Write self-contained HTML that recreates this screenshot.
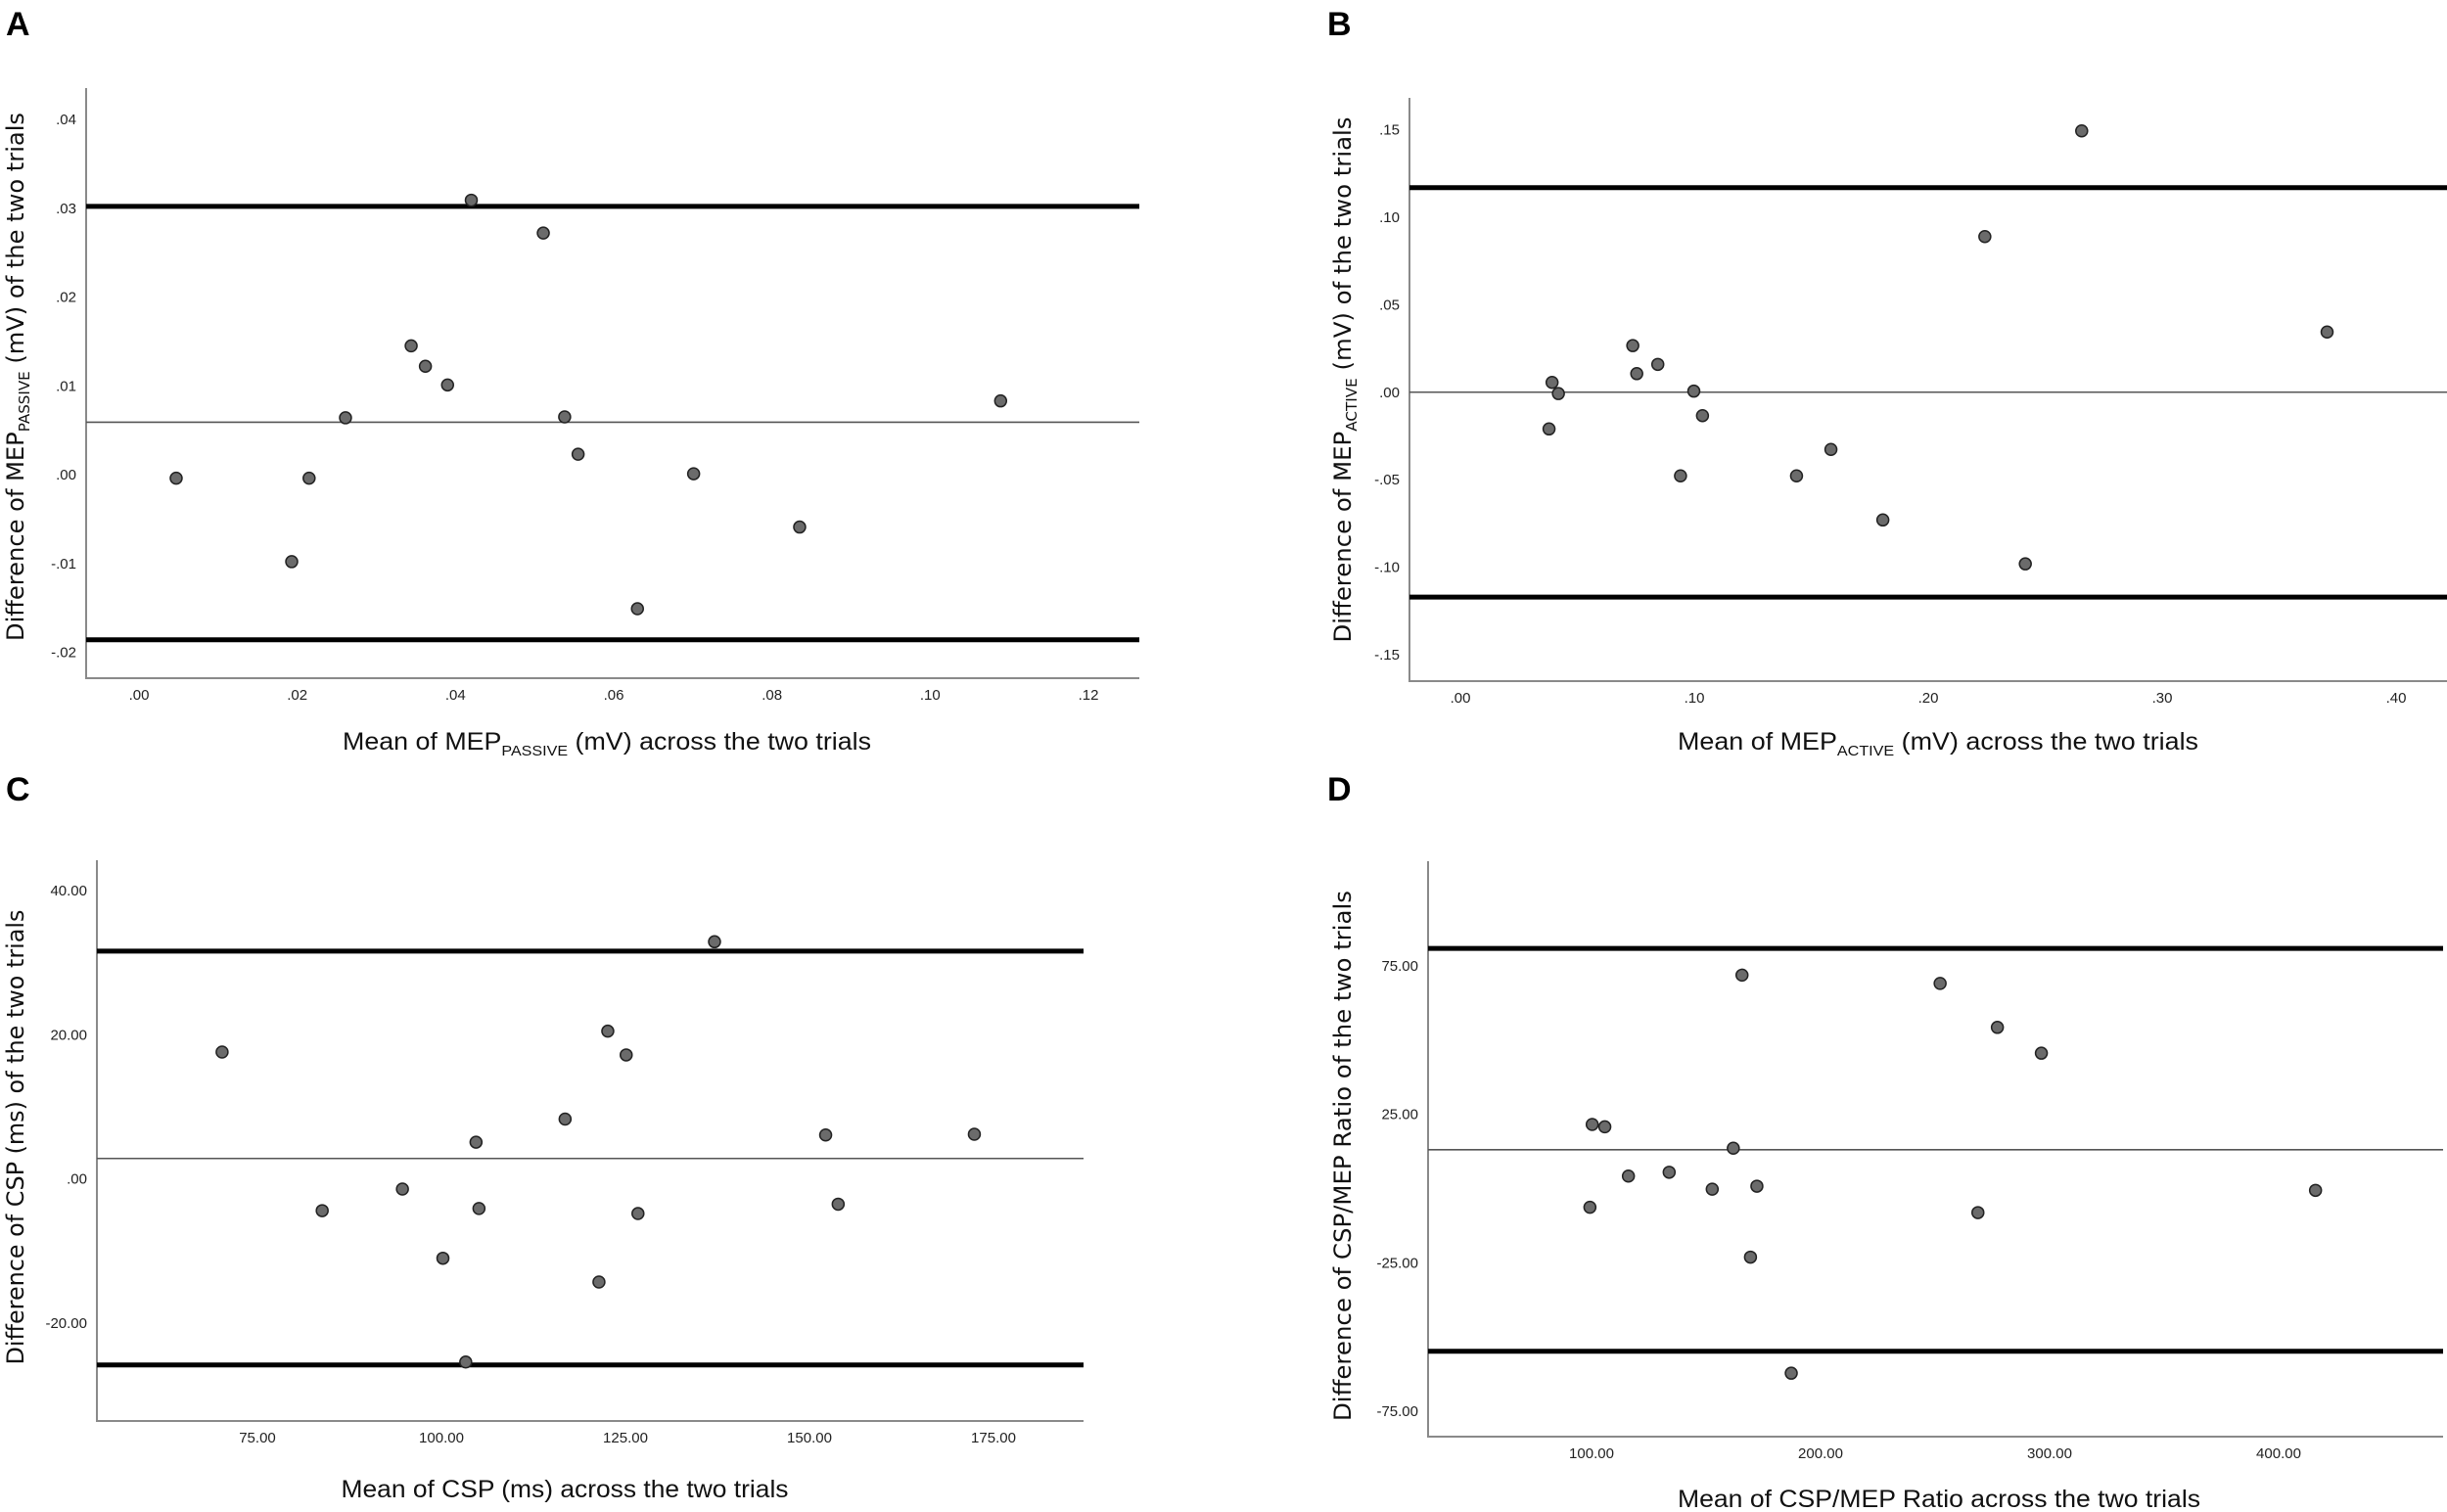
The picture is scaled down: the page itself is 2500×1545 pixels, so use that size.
<!DOCTYPE html>
<html><head><meta charset="utf-8"><style>
html,body{margin:0;padding:0;background:#fff;}
svg{display:block;}
.tick{font-family:"Liberation Sans",sans-serif;font-size:15px;fill:#222;}
.ytitle{font-family:"DejaVu Sans",sans-serif;font-size:24px;fill:#111;}
.xtitle{font-family:"Liberation Sans",sans-serif;font-size:25px;fill:#111;}
.panel{font-family:"Liberation Sans",sans-serif;font-size:34px;font-weight:bold;fill:#000;}
</style></head><body>
<svg id="fig" width="2500" height="1545" viewBox="0 0 2500 1545" xmlns="http://www.w3.org/2000/svg"></svg>
<script>
// Panel A data
const aX = [0.0047,0.0215,0.0193,0.0261,0.0344,0.0362,0.0390,0.0420,0.0511,0.0538,0.0555,0.0630,0.0701,0.0835,0.1089];
const aY = [-0.0004,-0.0004,-0.0098,0.0064,0.0145,0.0122,0.0101,0.0309,0.0272,0.0065,0.0023,-0.0151,0.0001,-0.0059,0.0083];
const aLines = [0.0302,0.0059,-0.0186];
const aXTicks = [0,0.02,0.04,0.06,0.08,0.10,0.12];
const aXLabels = [".00",".02",".04",".06",".08",".10",".12"];
const aYTicks = [-0.02,-0.01,0,0.01,0.02,0.03,0.04];
const aYLabels = ["-.02","-.01",".00",".01",".02",".03",".04"];
// Panel B data
const bX = [0.2656,0.2242,0.3705,0.0737,0.0754,0.0844,0.0392,0.0419,0.0379,0.0998,0.1035,0.0941,0.1437,0.1584,0.1806,0.2415];
const bY = [0.1493,0.0889,0.0344,0.0266,0.0106,0.0159,0.0056,-0.0008,-0.0210,0.0006,-0.0134,-0.0478,-0.0478,-0.0327,-0.0730,-0.0981];
const bLines = [0.1169,0,-0.1171];
const bXTicks = [0,0.1,0.2,0.3,0.4];
const bXLabels = [".00",".10",".20",".30",".40"];
const bYTicks = [-0.15,-0.10,-0.05,0,0.05,0.10,0.15];
const bYLabels = ["-.15","-.10","-.05",".00",".05",".10",".15"];
// Panel C data
const cX = [70.2,83.8,94.7,100.2,103.3,104.7,105.1,116.8,121.4,122.6,125.1,126.7,137.1,152.2,153.9,172.4];
const cY = [17.6,-4.4,-1.4,-11.0,-25.4,5.1,-4.1,8.3,-14.3,20.5,17.2,-4.8,32.9,6.1,-3.5,6.2];
const cLines = [31.6,2.84,-25.8];
const cXTicks = [75,100,125,150,175];
const cXLabels = ["75.00","100.00","125.00","150.00","175.00"];
const cYTicks = [-20,0,20,40];
const cYLabels = ["-20.00",".00","20.00","40.00"];
// Panel D data
const dX = [165.7,252.2,277.2,296.4,100.3,105.8,161.9,116.1,133.9,152.7,172.2,99.3,268.7,416.1,169.4,187.2];
const dY = [71.9,69.1,54.3,45.6,21.6,20.8,13.6,4.2,5.5,-0.2,0.8,-6.3,-8.1,-0.6,-23.1,-62.2];
const dLines = [80.9,13.1,-54.8];
const dXTicks = [100,200,300,400];
const dXLabels = ["100.00","200.00","300.00","400.00"];
const dYTicks = [-75,-25,25,75];
const dYLabels = ["-75.00","-25.00","25.00","75.00"];

const NS="http://www.w3.org/2000/svg";
const svg=document.getElementById('fig');
function mk(tag,attrs,parent){const e=document.createElementNS(NS,tag);for(const k in attrs)e.setAttribute(k,attrs[k]);(parent||svg).appendChild(e);return e;}
function lin(d0,d1,r0,r1){return v=>r0+(v-d0)*(r1-r0)/(d1-d0);}

function panel(cfg){
  const g=mk('g',{});
  
  
  const sx=lin(cfg.xd[0],cfg.xd[1],cfg.xr[0],cfg.xr[1]);
  const sy=lin(cfg.yd[0],cfg.yd[1],cfg.yr[0],cfg.yr[1]);
  const L=cfg.box[0],T=cfg.box[1],R=cfg.box[2],B=cfg.box[3];
  const ax=mk('path',{d:`M${L},${T}V${B}H${R}`,fill:'none',stroke:'#8a8a8a','stroke-width':2},g);
  
  
  cfg.xt.forEach((v,i)=>{const t=mk('text',{x:sx(v),y:B+22,'text-anchor':'middle',class:'tick'},g);t.textContent=cfg.xl[i];
    
    });
  cfg.yt.forEach((v,i)=>{const t=mk('text',{x:L-10,y:sy(v)+5,'text-anchor':'end',class:'tick'},g);t.textContent=cfg.yl[i];
    
    });
  cfg.lines.forEach((v,i)=>{const ln=mk('line',{x1:L,x2:R,y1:sy(v),y2:sy(v),stroke:i==1?'#555':'#000','stroke-width':i==1?1.6:5},g);
    
    });
  cfg.px.forEach((v,i)=>{const c=mk('circle',{cx:sx(v),cy:sy(cfg.py[i]),r:6,fill:'#6b6b6b',stroke:'#222','stroke-width':1.5},g);
    
    });
  const pl=mk('text',{x:cfg.letterPos[0],y:cfg.letterPos[1],class:'panel'},g);pl.textContent=cfg.letter;
  
  
  const yt=mk('text',{x:0,y:0,class:'ytitle','text-anchor':'middle',transform:`translate(${cfg.yTitle[0]},${cfg.yTitle[1]}) rotate(-90)`,textLength:cfg.yTitle[2],lengthAdjust:'spacingAndGlyphs'},g);
  yt.innerHTML=cfg.yText;
  
  
  const xt=mk('text',{x:cfg.xTitle[0],y:cfg.xTitle[1],class:'xtitle','text-anchor':'middle',textLength:cfg.xTitle[2],lengthAdjust:'spacingAndGlyphs'},g);
  xt.innerHTML=cfg.xText;
  
  
}
const sub=s=>`<tspan font-size="15" dy="6">${s}</tspan><tspan dy="-6">`;
panel({id:'panel-a',letter:'A',letterPos:[6,36],box:[88,90,1164,693],
  xd:[0,0.12],xr:[142,1112],yd:[0,0.04],yr:[485,122],
  xt:aXTicks,xl:aXLabels,yt:aYTicks,yl:aYLabels,lines:aLines,px:aX,py:aY,
  yTitle:[24,385,540],yText:'Difference of MEP'+sub('PASSIVE')+' (mV) of the two trials</tspan>',
  xTitle:[620,766,540],xText:'Mean of MEP'+sub('PASSIVE')+' (mV) across the two trials</tspan>'});
panel({id:'panel-b',letter:'B',letterPos:[1356,36],box:[1440,100,2500,696],
  xd:[0,0.4],xr:[1492,2448],yd:[0.15,-0.15],yr:[132.5,669],
  xt:bXTicks,xl:bXLabels,yt:bYTicks,yl:bYLabels,lines:bLines,px:bX,py:bY,
  yTitle:[1380,388,537],yText:'Difference of MEP'+sub('ACTIVE')+' (mV) of the two trials</tspan>',
  xTitle:[1980,766,532],xText:'Mean of MEP'+sub('ACTIVE')+' (mV) across the two trials</tspan>'});
panel({id:'panel-c',letter:'C',letterPos:[6,818],box:[99,879,1107,1452],
  xd:[75,175],xr:[263,1015],yd:[40,-20],yr:[910,1352],
  xt:cXTicks,xl:cXLabels,yt:cYTicks,yl:cYLabels,lines:cLines,px:cX,py:cY,
  yTitle:[24,1162,465],yText:'Difference of CSP (ms) of the two trials',
  xTitle:[577,1530,457],xText:'Mean of CSP (ms) across the two trials'});
panel({id:'panel-d',letter:'D',letterPos:[1356,818],box:[1459,880,2496,1468],
  xd:[100,400],xr:[1626,2328],yd:[75,-75],yr:[987,1442],
  xt:dXTicks,xl:dXLabels,yt:dYTicks,yl:dYLabels,lines:dLines,px:dX,py:dY,
  yTitle:[1380,1181,542],yText:'Difference of CSP/MEP Ratio of the two trials',
  xTitle:[1981,1540,534],xText:'Mean of CSP/MEP Ratio across the two trials'});
</script>
</body></html>
